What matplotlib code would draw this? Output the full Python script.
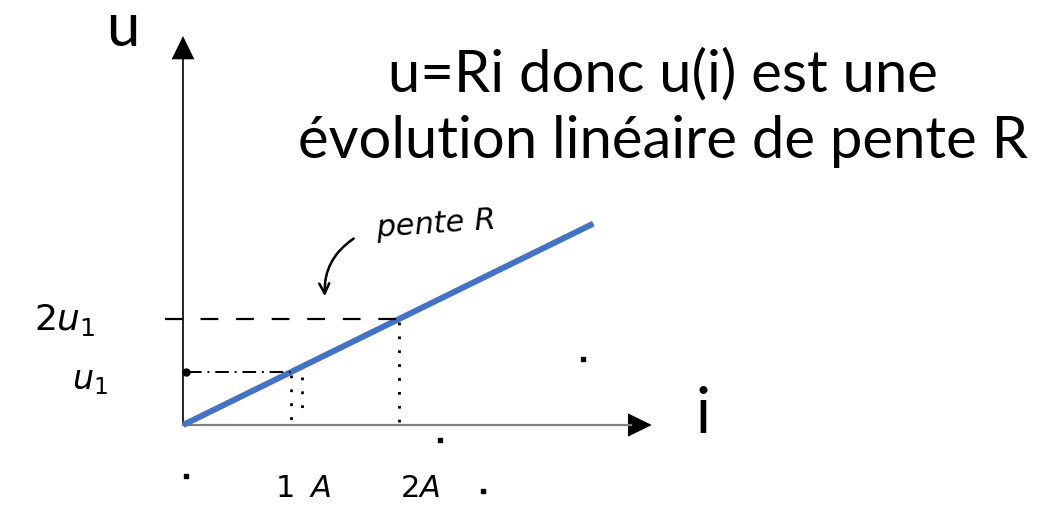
import numpy as np
import matplotlib.pyplot as plt

# current i (A) and voltage u (in units of u1), u = R*i with R = 1 u1/A
R = 1.0
i_line = [0.0, 3.8]
u_line = [R * x for x in i_line]

i_marks = [1, 2]              # 1 A and 2 A
u_marks = [1, 2]              # u1 and 2u1

# loose pen dots left on the sketch
dots_i = [0.03, 2.38, 2.78, 3.70]
dots_u = [-0.96, -0.28, -1.24, 1.25]

title = "u=Ri donc u(i) est une\névolution linéaire de pente R"

W, H = 1052, 506
x0, y0 = 183, 426             # origin in pixels
sx, sy = 108, 53              # pixels per A, per u1

fig = plt.figure(figsize=(W / 100, H / 100), dpi=100)
ax = fig.add_axes([0, 0, 1, 1])
ax.set_xlim(-x0 / sx, (W - x0) / sx)
ax.set_ylim(-(H - y0) / sy, y0 / sy)
ax.axis('off')

# axes arrows
ax.plot([0, 0], [0, 6.95], color='black', lw=1.2, solid_capstyle='butt')
ax.fill([-0.105, 0.105, 0], [6.9, 6.9, 7.34], color='black', lw=0)
ax.plot([0, 4.15], [0, 0], color='#808080', lw=1.6)
ax.fill([4.12, 4.12, 4.34], [0.22, -0.22, 0], color='black', lw=0)

ax.text(-0.56, (426 - 46) / sy, "u", fontsize=43, family='Lato', ha='center', va='baseline')
ax.text((703 - x0) / sx, -0.13, "i", fontsize=45, family='Lato', ha='center', va='baseline')

# characteristic
ax.plot(i_line, u_line, color='#4472C4', lw=4.3, solid_capstyle='butt')

# construction lines
ax.plot([-0.17, i_marks[1]], [u_marks[1], u_marks[1]], color='black', lw=1.6,
        linestyle=(0, (8, 8)))
ax.plot([0.05, i_marks[0]], [u_marks[0], u_marks[0]], color='black', lw=1.4,
        linestyle=(0, (7, 3, 1, 3)))
ax.plot([0.03], [u_marks[0]], 'o', color='black', ms=5)
for x, u in zip(i_marks, u_marks):
    ax.plot([x, x], [u - 0.05, -0.1], color='black', lw=2, linestyle=(0, (1, 4)))
ax.plot([1.1, 1.1], [0.9, 0.3], color='black', lw=2, linestyle=(0, (1, 4)))
ax.scatter(dots_i, dots_u, s=6, marker='s', color='black')

# hand-written labels
ax.text(-1.09, 2.0, r"$2u_1$", fontsize=26, ha='center', va='center')
ax.text(-0.86, 0.85, r"$u_1$", fontsize=24, ha='center', va='center')
ax.text((275 - x0) / sx, -1.17, r"$1\;\;A$", fontsize=22, ha='left', va='center')
ax.text((400 - x0) / sx, -1.17, r"$2A$", fontsize=22, ha='left', va='center')
ax.text((375 - x0) / sx, (426 - 225) / sy, r"$pente\ R$", fontsize=22,
        ha='left', va='center', rotation=4)
ax.annotate("", xy=((325 - x0) / sx, (426 - 300) / sy),
            xytext=((356 - x0) / sx, (426 - 238) / sy),
            arrowprops=dict(arrowstyle='->', lw=1.8, color='black',
                            connectionstyle='arc3,rad=0.3', mutation_scale=18))

# title, sized so the long line spans about 730 px
t = fig.text(663 / W, 1 - 108 / H, title, family='Lato', fontsize=40,
             ha='center', va='center', linespacing=1.32)
fig.canvas.draw()
w = t.get_window_extent().width
t.set_fontsize(40 * 730 / w)

fig.savefig('out.png', dpi=100)
